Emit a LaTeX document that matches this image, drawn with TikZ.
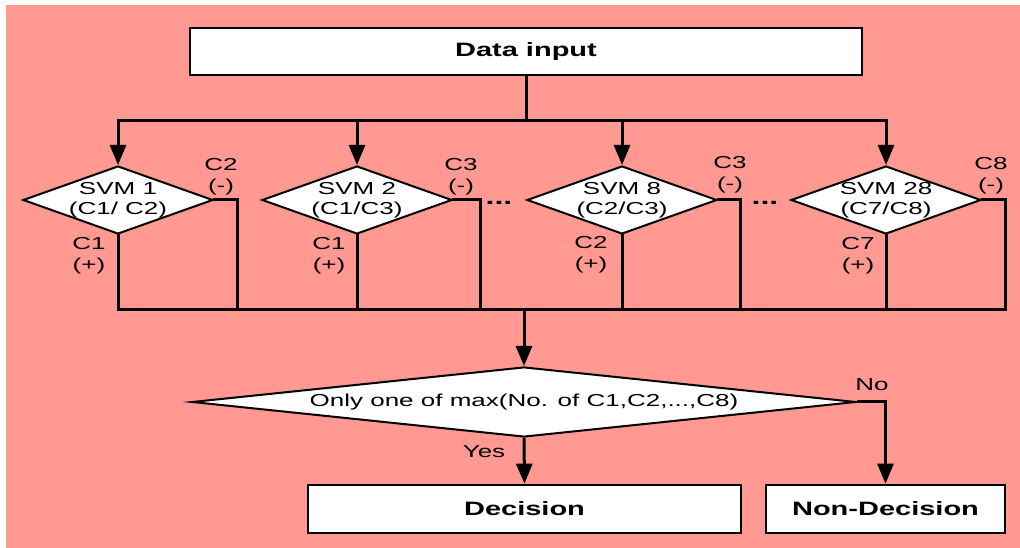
\documentclass[tikz,border=0pt]{standalone}
\usepackage{fontspec}
\setmainfont{Liberation Sans}[FakeStretch=1.5]
\usetikzlibrary{shapes.geometric,arrows.meta}
\definecolor{bgpink}{RGB}{255,153,145}

\tikzset{every picture/.style={line width=0.75pt}}
\tikzset{
  box/.style={draw, fill=white, line width=2pt, inner sep=0pt, font=\fontsize{14.5}{17}\selectfont\bfseries},
  svm/.style={diamond, draw, fill=white, line width=1.5pt, aspect=2.8, inner sep=-2pt, minimum width=142.5pt, minimum height=51pt, align=center, font=\fontsize{13}{15}\selectfont},
  lbl/.style={inner sep=0pt, align=center, font=\fontsize{13}{16}\selectfont},
  conn/.style={line width=2.25pt, line cap=rect},
  arr/.style={line width=2.25pt, -{Triangle[width=12pt,length=15pt]}},
}

\begin{document}
\begin{tikzpicture}[x=0.75pt,y=0.75pt,yscale=-1,xscale=1]
\useasboundingbox (0,0) rectangle (1020,548);
% background
\fill[bgpink] (6,5) rectangle (1020,548);

% Input box
\node[box, minimum width=504pt, minimum height=35.25pt] (input) at (526,51.5) {Data input};
\coordinate (split) at (526,121);

% Binary SVM diamonds
\node[svm] (svm1) at (118,200) {SVM 1\\(C1/ C2)};
\node[svm] (svm2) at (357,200) {SVM 2\\(C1/C3)};
\node[svm] (svm8) at (622,200) {SVM 8\\(C2/C3)};
\node[svm] (svm28) at (886,200) {SVM 28\\(C7/C8)};

% Voting diamond and result boxes
\node[diamond, draw, fill=white, line width=1.5pt, aspect=9.5, inner sep=0pt, minimum width=498pt, minimum height=52.5pt, font=\fontsize{13}{15}\selectfont] (check) at (524,402) {Only one of max(No. of C1,C2,...,C8)};
\node[box, minimum width=324.75pt, minimum height=36pt] (dec) at (524.5,509) {Decision};
\node[box, minimum width=179.25pt, minimum height=36pt] (nondec) at (885.5,509) {Non-Decision};

% corner points of the collecting line
\coordinate (out1) at (237,310);
\coordinate (out2) at (480,310);
\coordinate (out8) at (740,310);
\coordinate (out28) at (1005,310);
\coordinate (merge) at (524,310);

% Distribution lines
\draw[conn] (input.south) -- (split);
\draw[arr] (split) -| (svm1.north);
\draw[arr] (split) -| (svm28.north);
\draw[arr] (svm2.north |- split) -- (svm2.north);
\draw[arr] (svm8.north |- split) -- (svm8.north);

% Collecting lines
\draw[conn] (svm1.south) |- (out28) |- (svm28.east);
\draw[conn] (svm1.east) -| (out1);
\draw[conn] (svm2.east) -| (out2);
\draw[conn] (svm2.south) -- (svm2.south |- merge);
\draw[conn] (svm8.east) -| (out8);
\draw[conn] (svm8.south) -- (svm8.south |- merge);
\draw[conn] (svm28.south) -- (svm28.south |- merge);
\draw[arr] (merge) -- (check.north);

% Outcome lines
\draw[arr] (check.south) -- (dec.north);
\draw[arr] (check.east) -| (nondec.north);

% Text Node
\node[lbl] (c2m) at (221,177) {C2\\(-)};
\node[lbl] (c1p) at (89,256) {C1\\(+)};
\node[lbl] (c3m) at (461,177) {C3\\(-)};
\node[lbl] (c1pb) at (329,256) {C1\\(+)};
\node[lbl] (c3mb) at (730,175) {C3\\(-)};
\node[lbl] (c2p) at (591,255) {C2\\(+)};
\node[lbl] (c8m) at (991,176) {C8\\(-)};
\node[lbl] (c7p) at (858,256) {C7\\(+)};
\node[lbl, font=\fontsize{16}{16}\selectfont\bfseries, anchor=base] (dotsa) at (499,205) {...};
\node[lbl, font=\fontsize{16}{16}\selectfont\bfseries, anchor=base] (dotsb) at (765,205) {...};
\node[lbl] (yes) at (484,452) {Yes};
\node[lbl] (no) at (872,385) {No};

\end{tikzpicture}
\end{document}
